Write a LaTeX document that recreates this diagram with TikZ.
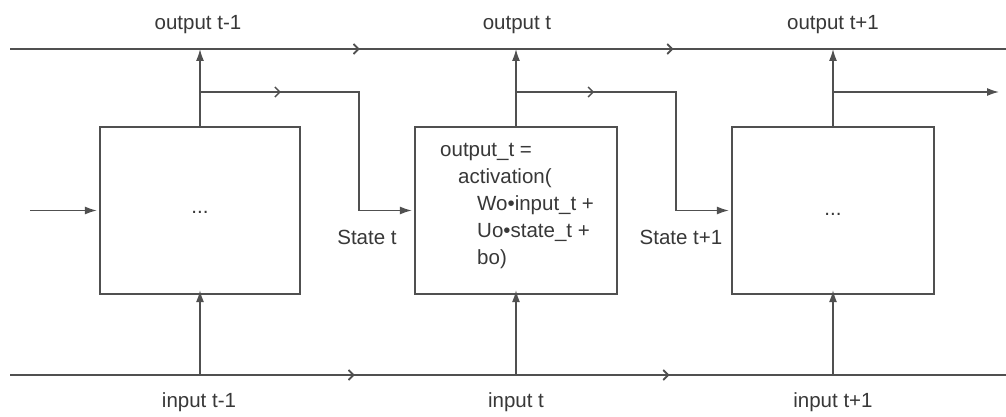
\documentclass[tikz,border=0pt]{standalone}
\usepackage{fontspec}
\setmainfont{Liberation Sans}
\usetikzlibrary{arrows.meta,decorations.markings}
\definecolor{ln}{HTML}{505050}
\definecolor{tx}{HTML}{383838}
\tikzset{
  main/.style={draw=ln,line width=2.4pt},
  conn/.style={draw=ln,line width=1.5pt},
  cell/.style={draw=ln,line width=2.2pt,minimum height=167pt,inner sep=0pt,fill=white},
  lbl/.style={text=tx,font=\fontsize{20.5}{26}\selectfont,inner sep=0pt},
  tipf/.style={-{Latex[length=12pt,width=8pt]}},
  midopen/.style={postaction={decorate},decoration={markings,
     mark=at position #1 with {\arrow{Straight Barb[length=5pt,width=10pt,line width=1.5pt]}}}}
}
\begin{document}
\begin{tikzpicture}[x=1pt,y=-1pt]
\useasboundingbox[fill=white] (0,0) rectangle (1006,417);
% cells
\node[cell,minimum width=200pt] (b1) at (200,210.5) {};
\node[cell,minimum width=202pt] (b2) at (516,210.5) {};
\node[cell,minimum width=202pt] (b3) at (833,210.5) {};
\node[lbl] (d1) at (200,212) {...};
\node[lbl] (d3) at (833,214) {...};
\node[lbl,anchor=north west,align=left,font=\fontsize{20.5}{27}\selectfont] (eq) at (440,143)
  {output\_t =\\\hspace*{18pt}activation(\\\hspace*{37pt}Wo•input\_t +\\\hspace*{37pt}Uo•state\_t +\\\hspace*{37pt}bo)};
% rails
\coordinate (tl) at (10,49);
\coordinate (tr) at (1006,49);
\coordinate (bl) at (10,375);
\coordinate (br) at (1006,375);
\draw[main,midopen=0.351,midopen=0.666] (tl) -- (tr);
\draw[main,midopen=0.346,midopen=0.662] (bl) -- (br);
% output taps
\coordinate (o1) at (200,49);
\coordinate (o2) at (516,49);
\coordinate (o3) at (833,49);
\draw[conn,tipf] (b1.north) -- (o1);
\draw[conn,tipf] (b2.north) -- (o2);
\draw[conn,tipf] (b3.north) -- (o3);
% input taps
\coordinate (i1) at (200,375);
\coordinate (i2) at (516,375);
\coordinate (i3) at (833,375);
\draw[conn,tipf] (i1) -- ([yshift=5pt]b1.south);
\draw[conn,tipf] (i2) -- ([yshift=5pt]b2.south);
\draw[conn,tipf] (i3) -- ([yshift=5pt]b3.south);
% state connections
\coordinate (s1) at (200,92);
\coordinate (s2) at (516,92);
\coordinate (s3) at (833,92);
\coordinate (k1) at (359,92);
\coordinate (k2) at (676,92);
\coordinate (e3) at (999,92);
\draw[conn,tipf,midopen=0.245] (s1) -- (k1) |- ([xshift=-2pt]b2.west);
\draw[conn,tipf,midopen=0.236] (s2) -- (k2) |- ([xshift=-2pt]b3.west);
\draw[conn,tipf] (s3) -- (e3);
\coordinate (in0) at (30,210.5);
\draw[conn,tipf] (in0) -- ([xshift=-2pt]b1.west);
% labels
\node[lbl] (lo1) at (198,25) {output t-1};
\node[lbl] (lo2) at (517,25) {output t};
\node[lbl] (lo3) at (833,25) {output t+1};
\node[lbl] (li1) at (199,402) {input t-1};
\node[lbl] (li2) at (516,402) {input t};
\node[lbl] (li3) at (833,402) {input t+1};
\node[lbl] (ls1) at (367,237) {State t};
\node[lbl] (ls2) at (681,237) {State t+1};
\end{tikzpicture}
\end{document}
